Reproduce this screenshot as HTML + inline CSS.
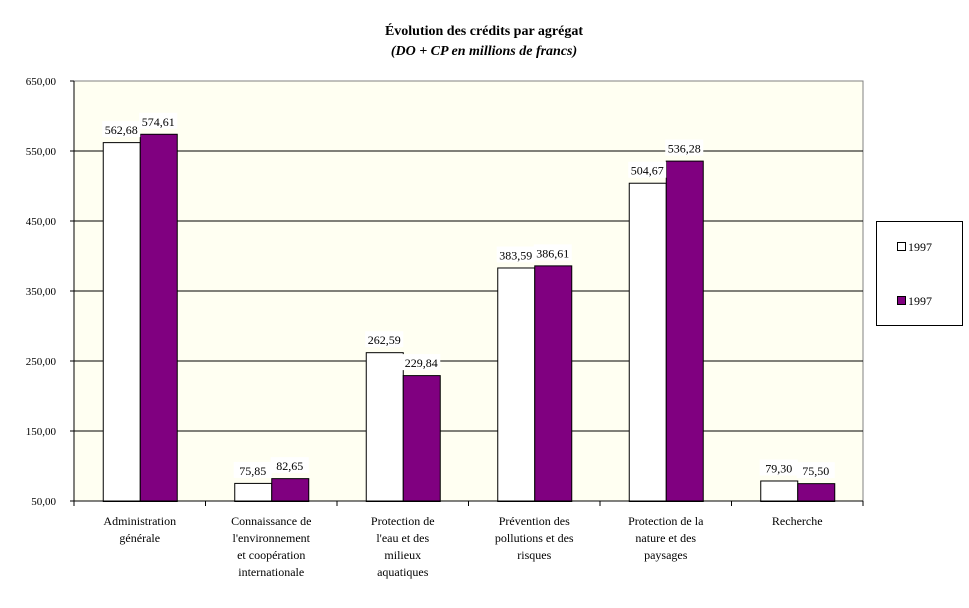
<!DOCTYPE html>
<html><head><meta charset="utf-8"><style>
body{margin:0;background:#fff;font-family:"Liberation Serif",serif;}
</style></head><body>
<svg width="969" height="603" xmlns="http://www.w3.org/2000/svg" font-family="Liberation Serif, serif">
<text x="484" y="35" text-anchor="middle" font-size="14" font-weight="bold">Évolution des crédits par agrégat</text>
<text x="484" y="55" text-anchor="middle" font-size="14" font-weight="bold" font-style="italic">(DO + CP en millions de francs)</text>
<rect x="74" y="81" width="789" height="420" fill="#FFFFF2" stroke="#808080" stroke-width="1"/>
<g id="grid"></g><g id="bars"></g><g id="labels"></g>
<line x1="74" y1="81" x2="74" y2="501" stroke="#000"/>
<line x1="74" y1="501" x2="863" y2="501" stroke="#000"/>
<g>
<rect x="876.5" y="221.5" width="86" height="104" fill="#fff" stroke="#000"/>
<rect x="897.5" y="242.5" width="8" height="8" fill="#fff" stroke="#000"/>
<text x="908" y="251" font-size="12">1997</text>
<rect x="897.5" y="296.5" width="8" height="8" fill="#800080" stroke="#000"/>
<text x="908" y="305" font-size="12">1997</text>
</g>
</svg>
<script>
const categories=[["Administration","générale"],["Connaissance de","l'environnement","et coopération","internationale"],["Protection de","l'eau et des","milieux","aquatiques"],["Prévention des","pollutions et des","risques"],["Protection de la","nature et des","paysages"],["Recherche"]];
const series1=[562.68,75.85,262.59,383.59,504.67,79.30];
const series2=[574.61,82.65,229.84,386.61,536.28,75.50];
const yTicks=[50,150,250,350,450,550,650];
const NS="http://www.w3.org/2000/svg";
const X0=74,X1=863,Y0=501,Y1=81,YMIN=50,YMAX=650;
const y=v=>Y0-(v-YMIN)/(YMAX-YMIN)*(Y0-Y1);
const cw=(X1-X0)/categories.length;
const cx=i=>X0+cw*(i+0.5);
function mk(t,a,p){const e=document.createElementNS(NS,t);for(const k in a)e.setAttribute(k,a[k]);p.appendChild(e);return e;}
const fmt=v=>v.toFixed(2).replace('.',',');
const grid=document.getElementById('grid'),bars=document.getElementById('bars'),labels=document.getElementById('labels');
yTicks.forEach(v=>{
 if(v>YMIN&&v<YMAX){const l=mk('line',{x1:X0,x2:X1,y1:y(v),y2:y(v),stroke:'#000'},grid);
 
 }
 mk('line',{x1:X0-4,x2:X0,y1:y(v),y2:y(v),stroke:'#000'},grid);
 const tx=mk('text',{x:X0-18,y:y(v)+4,'text-anchor':'end','font-size':11},labels);
 tx.textContent=fmt(v);
 
 
});
for(let i=0;i<=categories.length;i++){mk('line',{x1:X0+cw*i,x2:X0+cw*i,y1:Y0,y2:Y0+5,stroke:'#000'},grid);}
const bw=37;
categories.forEach((c,i)=>{
 [[series1,'#fff',-bw],[series2,'#800080',0]].forEach(([s,col,off],k)=>{
  const v=s[i];const r=mk('rect',{x:cx(i)+off+0.5,y:y(v)+0.5,width:bw,height:Y0-y(v),fill:col,stroke:'#000'},bars);
  
  
  mk('rect',{x:cx(i)+off+bw/2-19,y:y(v)-21,width:38,height:16,fill:'#fff'},labels);
  const t=mk('text',{x:cx(i)+off+bw/2,y:y(v)-8,'text-anchor':'middle','font-size':12},labels);
  t.textContent=fmt(v);
  
  
 });
 c.forEach((ln,j)=>{const t=mk('text',{x:cx(i),y:525+j*17,'text-anchor':'middle','font-size':12},labels);
 t.textContent=ln;
 
 });
});
</script>
</body></html>
